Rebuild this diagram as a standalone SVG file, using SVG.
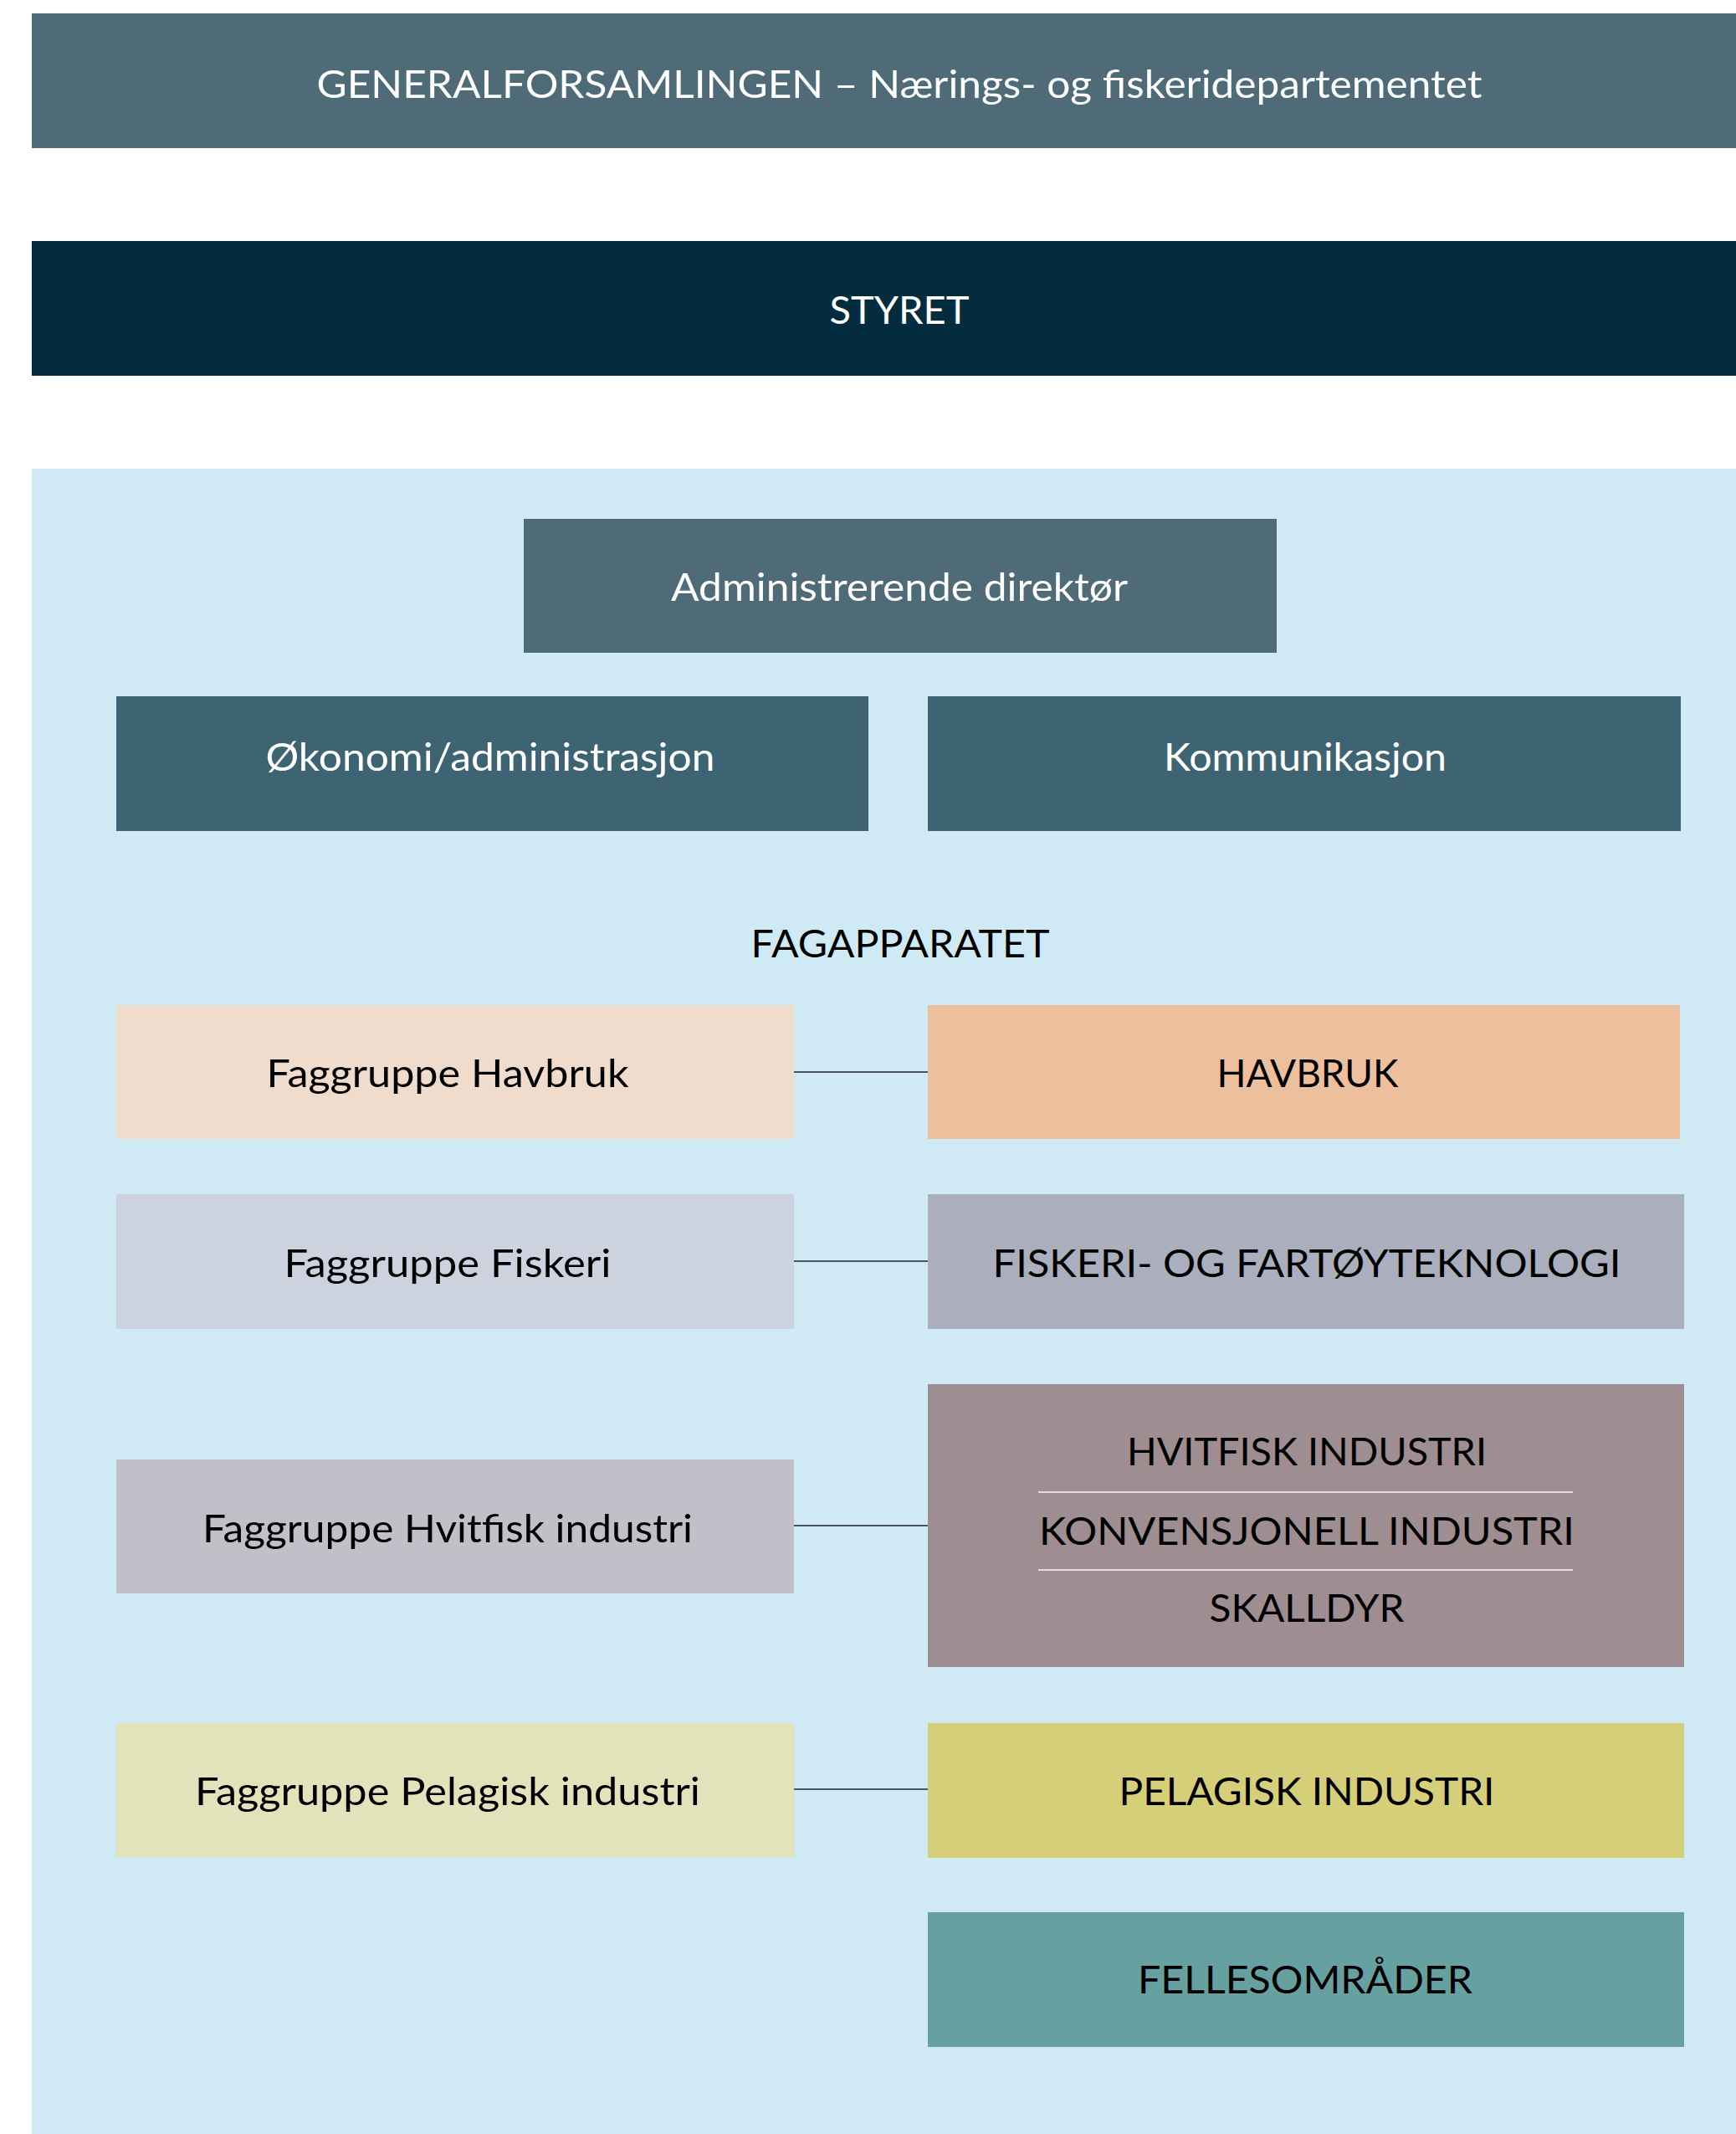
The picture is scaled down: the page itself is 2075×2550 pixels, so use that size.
<svg xmlns="http://www.w3.org/2000/svg" width="2075" height="2550" viewBox="0 0 2075 2550">
<style>
  text { font-family: Lato, "Open Sans", "Liberation Sans", sans-serif; font-size: 47px; text-anchor: middle; }
  .w { fill: #ffffff; }
  .k { fill: #000000; }
  .conn { stroke: #4a565b; stroke-width: 2; fill: none; }
  .sep { stroke: #e2dcdd; stroke-width: 2; fill: none; }
</style>
<rect x="0" y="0" width="2075" height="2550" fill="#ffffff"/>
<g id="generalforsamlingen">
  <rect x="38" y="16" width="2037" height="161" fill="#4e6b77"/>
  <text class="w" x="1075" y="117" textLength="1393" lengthAdjust="spacingAndGlyphs">GENERALFORSAMLINGEN – Nærings- og fiskeridepartementet</text>
</g>
<g id="styret">
  <rect x="38" y="288" width="2037" height="161" fill="#032d3e"/>
  <text class="w" x="1075" y="387" textLength="167" lengthAdjust="spacingAndGlyphs">STYRET</text>
</g>
<g id="fagomrade">
  <rect x="38" y="560" width="2037" height="1990" fill="#d0eaf5"/>
</g>
<g id="connectors">
  <line class="conn" x1="945" y1="1281" x2="1109" y2="1281"/>
  <line class="conn" x1="945" y1="1507" x2="1109" y2="1507"/>
  <line class="conn" x1="945" y1="1823" x2="1109" y2="1823"/>
  <line class="conn" x1="945" y1="2138" x2="1109" y2="2138"/>
</g>
<g id="adm-dir">
  <rect x="626" y="620" width="900" height="160" fill="#4e6b77"/>
  <text class="w" x="1075" y="718" textLength="546" lengthAdjust="spacingAndGlyphs">Administrerende direktør</text>
</g>
<g id="okonomi">
  <rect x="139" y="832" width="899" height="161" fill="#3e6473"/>
  <text class="w" x="586" y="921" textLength="537" lengthAdjust="spacingAndGlyphs">Økonomi/administrasjon</text>
</g>
<g id="kommunikasjon">
  <rect x="1109" y="832" width="900" height="161" fill="#3e6473"/>
  <text class="w" x="1560" y="921" textLength="338" lengthAdjust="spacingAndGlyphs">Kommunikasjon</text>
</g>
<g id="fagapparatet">
  <text class="k" x="1076" y="1144" textLength="357" lengthAdjust="spacingAndGlyphs">FAGAPPARATET</text>
</g>
<g id="faggruppe-havbruk">
  <rect x="139" y="1201" width="810" height="160" fill="#efdccd"/>
  <text class="k" x="535" y="1299" textLength="433" lengthAdjust="spacingAndGlyphs">Faggruppe Havbruk</text>
</g>
<g id="havbruk">
  <rect x="1109" y="1201" width="899" height="160" fill="#edbf9d"/>
  <text class="k" x="1563" y="1299" textLength="217" lengthAdjust="spacingAndGlyphs">HAVBRUK</text>
</g>
<g id="faggruppe-fiskeri">
  <rect x="139" y="1427" width="810" height="161" fill="#ccd2de"/>
  <text class="k" x="535" y="1526" textLength="391" lengthAdjust="spacingAndGlyphs">Faggruppe Fiskeri</text>
</g>
<g id="fiskeri">
  <rect x="1109" y="1427" width="904" height="161" fill="#abaebd"/>
  <text class="k" x="1562" y="1526" textLength="751" lengthAdjust="spacingAndGlyphs">FISKERI- OG FARTØYTEKNOLOGI</text>
</g>
<g id="faggruppe-hvitfisk">
  <rect x="139" y="1744" width="810" height="160" fill="#c1c0c8"/>
  <text class="k" x="535" y="1843" textLength="586" lengthAdjust="spacingAndGlyphs">Faggruppe Hvitfisk industri</text>
</g>
<g id="hvitfisk">
  <rect x="1109" y="1654" width="904" height="338" fill="#9e8d91"/>
  <line class="sep" x1="1241" y1="1783" x2="1880" y2="1783"/>
  <line class="sep" x1="1241" y1="1876" x2="1880" y2="1876"/>
  <text class="k" x="1562" y="1751" textLength="430" lengthAdjust="spacingAndGlyphs">HVITFISK INDUSTRI</text>
  <text class="k" x="1562" y="1846" textLength="640" lengthAdjust="spacingAndGlyphs">KONVENSJONELL INDUSTRI</text>
  <text class="k" x="1562" y="1938" textLength="233" lengthAdjust="spacingAndGlyphs">SKALLDYR</text>
</g>
<g id="faggruppe-pelagisk">
  <rect x="139" y="2059" width="810" height="160" fill="#e2e3bb"/>
  <text class="k" x="535" y="2157" textLength="604" lengthAdjust="spacingAndGlyphs">Faggruppe Pelagisk industri</text>
</g>
<g id="pelagisk">
  <rect x="1109" y="2059" width="904" height="161" fill="#d5cf7a"/>
  <text class="k" x="1562" y="2157" textLength="449" lengthAdjust="spacingAndGlyphs">PELAGISK INDUSTRI</text>
</g>
<g id="fellesomrader">
  <rect x="1109" y="2285" width="904" height="161" fill="#67a0a0"/>
  <text class="k" x="1560" y="2382" textLength="400" lengthAdjust="spacingAndGlyphs">FELLESOMRÅDER</text>
</g>
</svg>
